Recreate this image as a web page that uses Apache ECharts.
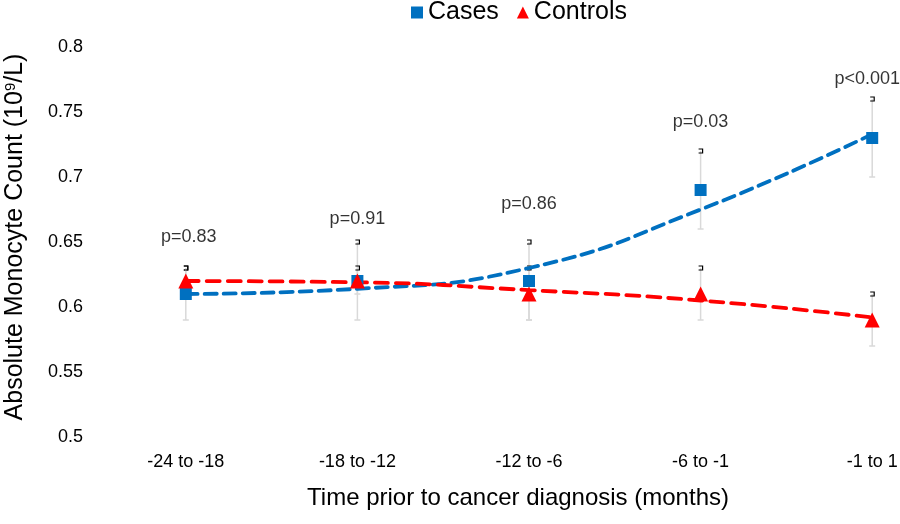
<!DOCTYPE html>
<html><head><meta charset="utf-8">
<script src="https://cdn.jsdelivr.net/npm/echarts@6/dist/echarts.min.js"></script>
<style>html,body{margin:0;padding:0;background:#fff}#c{width:900px;height:524px}</style>
</head><body><div id="c"></div>
<script>
const categories = ['-24 to -18', '-18 to -12', '-12 to -6', '-6 to -1', '-1 to 1'];
const casesMean = [0.61, 0.62, 0.62, 0.69, 0.73];
const casesErr = [0.02, 0.03, 0.03, 0.03, 0.03];
const controlsMean = [0.62, 0.62, 0.61, 0.61, 0.59];
const controlsErr = [0.01, 0.01, 0.02, 0.02, 0.02];
const casesTrend = [0.61, 0.614, 0.630, 0.675, 0.733];
const controlsTrend = [0.62, 0.619, 0.613, 0.605, 0.592];
const pValues = ['p=0.83', 'p=0.91', 'p=0.86', 'p=0.03', 'p<0.001'];
const pLabelAt = [0.654, 0.668, 0.679, 0.742, 0.775];
const yMin = 0.5, yMax = 0.8, yStep = 0.05;

const FONT = '"Liberation Sans", Arial, sans-serif';
const BLUE = '#0070C0', RED = '#FF0000';

function errData(mean, err) {
  return mean.map((m, i) => [i, m - err[i], m + err[i]]);
}
function errRender(params, api) {
  const x = api.value(0);
  const lo = api.coord([x, api.value(1)]);
  const hi = api.coord([x, api.value(2)]);
  return {
    type: 'group',
    children: [
      { type: 'line', shape: { x1: lo[0], y1: lo[1], x2: hi[0], y2: hi[1] }, style: { stroke: '#D9D9D9', lineWidth: 1.5 } },
      { type: 'line', shape: { x1: lo[0] - 3, y1: lo[1], x2: lo[0] + 3, y2: lo[1] }, style: { stroke: '#D9D9D9', lineWidth: 1.5 } },
      { type: 'polyline', shape: { points: [[hi[0] - 2, hi[1] - 2], [hi[0] + 2, hi[1] - 2], [hi[0] + 2, hi[1] + 2], [hi[0] - 2, hi[1] + 2]] }, style: { stroke: '#000', lineWidth: 1.2, fill: null } }
    ]
  };
}

const pLabelData = pLabelAt.map((v, i) => {
  const item = { value: [i, v] };
  if (i === pLabelAt.length - 1) item.label = { offset: [-5, 0] };
  else if (i === 0) item.label = { offset: [3, 0] };
  return item;
});

const chart = echarts.init(document.getElementById('c'));
chart.setOption({
  animation: false,
  textStyle: { fontFamily: FONT },
  legend: {
    data: [{ name: 'Cases', icon: 'rect' }, { name: 'Controls', icon: 'triangle' }],
    top: -5, left: 406,
    itemWidth: 12, itemHeight: 12, itemGap: 18,
    textStyle: { fontSize: 25, color: '#000', fontFamily: FONT }
  },
  grid: { left: 100, right: -58, top: 47, bottom: 87, outerBoundsMode: 'none', containLabel: false },
  xAxis: {
    type: 'category', data: categories, boundaryGap: true,
    axisLine: { show: false }, axisTick: { show: false },
    axisLabel: { fontSize: 18, color: '#000', margin: 16, fontFamily: FONT },
    name: 'Time prior to cancer diagnosis (months)', nameLocation: 'middle', nameGap: 49,
    nameTextStyle: { fontSize: 24, color: '#000', fontFamily: FONT, padding: [0, 22, 0, 0] },
    splitLine: { show: false }
  },
  yAxis: {
    type: 'value', min: yMin, max: yMax, interval: yStep,
    axisLine: { show: false }, axisTick: { show: false }, splitLine: { show: false },
    axisLabel: { fontSize: 18, color: '#000', margin: 17, fontFamily: FONT },
    name: 'Absolute Monocyte Count (10{sup|9}/L)', nameLocation: 'middle', nameGap: 72,
    nameTextStyle: { fontSize: 25, color: '#000', fontFamily: FONT, padding: [0, 0, 0, 10], rich: { sup: { fontSize: 15, verticalAlign: 'top', padding: [0, 0, 10, 0], color: '#000', fontFamily: FONT } } }
  },
  series: [
    { type: 'custom', name: 'casesErr', renderItem: errRender, data: errData(casesMean, casesErr), encode: { x: 0, y: [1, 2] }, z: 1, silent: true },
    { type: 'custom', name: 'controlsErr', renderItem: errRender, data: errData(controlsMean, controlsErr), encode: { x: 0, y: [1, 2] }, z: 1, silent: true },
    { type: 'line', name: 'casesTrend', data: casesTrend, smooth: true, symbol: 'none', lineStyle: { color: BLUE, width: 3.8, type: [12, 7], cap: 'round' }, z: 2 },
    { type: 'line', name: 'controlsTrend', data: controlsTrend, smooth: true, symbol: 'none', lineStyle: { color: RED, width: 3.8, type: [13, 8], cap: 'round' }, z: 2 },
    { type: 'scatter', name: 'Cases', data: casesMean, symbol: 'rect', symbolSize: 12, itemStyle: { color: BLUE, opacity: 1 }, z: 3 },
    { type: 'scatter', name: 'Controls', data: controlsMean, symbol: 'triangle', symbolSize: 15, itemStyle: { color: RED, opacity: 1 }, z: 3 },
    { type: 'scatter', name: 'pLabels', data: pLabelData, symbolSize: 0, silent: true,
      label: { show: true, position: 'inside', formatter: p => pValues[p.dataIndex], fontSize: 18, color: '#000', fontFamily: FONT }, z: 4 }
  ]
});
</script></body></html>
